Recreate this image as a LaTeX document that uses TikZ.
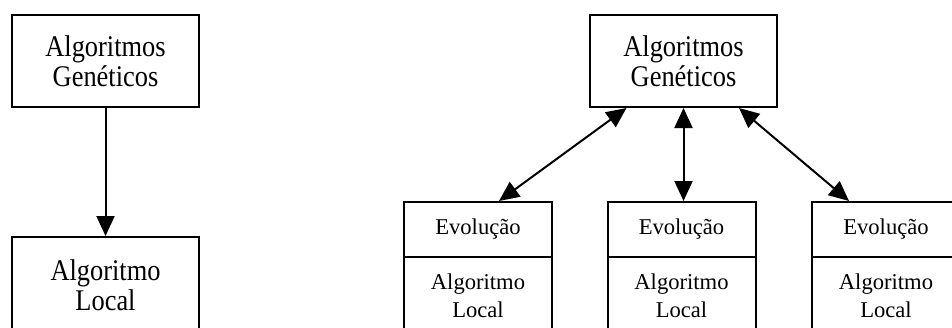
\documentclass[tikz,border=0pt]{standalone}
\usepackage{fontspec}
\setmainfont{Liberation Serif}
\newfontfamily\narrowserif[FakeStretch=0.88]{Liberation Serif}
\usetikzlibrary{arrows.meta}

\tikzset{
  bigbox/.style={draw, line width=2pt, rectangle, align=center, inner sep=0pt,
    font=\narrowserif\fontsize{30}{30}\selectfont},
  smallbox/.style={draw, line width=2pt, rectangle, align=center, inner sep=0pt,
    outer sep=0pt, minimum width=148pt, font=\fontsize{22.6}{28}\selectfont},
  link/.style={line width=2pt, -{Triangle[length=20pt,width=18pt]}},
  dbl/.style={line width=2pt, {Triangle[length=20pt,width=18pt]}-{Triangle[length=20pt,width=18pt]}}
}

\begin{document}
\begin{tikzpicture}[x=1pt,y=-1pt]
  \useasboundingbox (0,0) rectangle (952,327);
  \clip (0,0) rectangle (952,327);

  % sequential scheme
  \node[bigbox, minimum width=187pt, minimum height=92pt] (ga1) at (105.5,61)
    {Algoritmos\\Genéticos};
  \node[bigbox, minimum width=187pt, minimum height=96pt] (al1) at (105.5,285)
    {Algoritmo\\Local};
  \draw[link] (ga1.south) -- (al1.north);

  % hybrid scheme
  \node[bigbox, minimum width=187pt, minimum height=92pt] (ga2) at (683.5,61)
    {Algoritmos\\Genéticos};

  \node[smallbox, minimum height=55pt] (evo1) at (478,229.5) {Evolução};
  \node[smallbox, minimum height=55pt] (evo2) at (681.5,229.5) {Evolução};
  \node[smallbox, minimum height=55pt] (evo3) at (886,229.5) {Evolução};

  \node[smallbox, minimum height=78pt, anchor=north] (loc1) at (evo1.south) {Algoritmo\\Local};
  \node[smallbox, minimum height=78pt, anchor=north] (loc2) at (evo2.south) {Algoritmo\\Local};
  \node[smallbox, minimum height=78pt, anchor=north] (loc3) at (evo3.south) {Algoritmo\\Local};

  \draw[dbl] ([xshift=-57pt]ga2.south) -- ([xshift=21pt,yshift=1pt]evo1.north);
  \draw[dbl] (ga2.south) -- ([yshift=1pt]ga2.south |- evo2.north);
  \draw[dbl] ([xshift=55.5pt]ga2.south) -- ([xshift=-37pt,yshift=1pt]evo3.north);
\end{tikzpicture}
\end{document}
